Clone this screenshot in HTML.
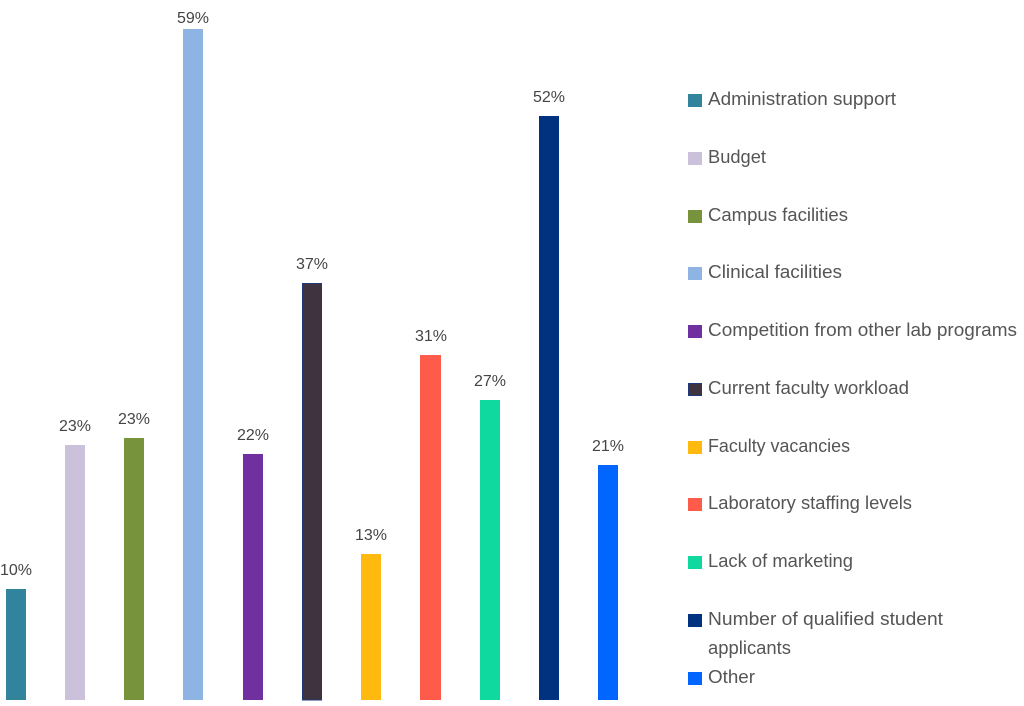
<!DOCTYPE html>
<html>
<head>
<meta charset="utf-8">
<style>
  html,body{margin:0;padding:0;background:#ffffff;}
  svg{display:block;}
  text{font-family:"Liberation Sans",sans-serif;}
</style>
</head>
<body>
<svg width="1024" height="706" viewBox="0 0 1024 706" xmlns="http://www.w3.org/2000/svg">
  <rect x="0" y="0" width="1024" height="706" fill="#ffffff"/>
  <!-- bars -->
  <rect x="6" y="589" width="20" height="111" fill="#31849B"/>
  <rect x="65" y="445" width="20" height="255" fill="#CCC1DA"/>
  <rect x="124" y="438" width="20" height="262" fill="#77933C"/>
  <rect x="183" y="29" width="20" height="671" fill="#8EB4E3"/>
  <rect x="243" y="454" width="20" height="246" fill="#7030A0"/>
  <rect x="302.5" y="283.5" width="19" height="416.5" fill="#403340" stroke="#1F3A7A" stroke-width="1"/>
  <rect x="361" y="554" width="20" height="146" fill="#FFB90F"/>
  <rect x="420" y="355" width="21" height="345" fill="#FF5B4B"/>
  <rect x="480" y="400" width="20" height="300" fill="#0FD99E"/>
  <rect x="539" y="116" width="20" height="584" fill="#00327F"/>
  <rect x="598" y="465" width="20" height="235" fill="#0066FF"/>

  <!-- value labels -->
  <g fill="#454545" font-size="16" text-anchor="middle">
    <text x="16" y="575">10%</text>
    <text x="75" y="431">23%</text>
    <text x="134" y="424">23%</text>
    <text x="193" y="23">59%</text>
    <text x="253" y="440">22%</text>
    <text x="312" y="269">37%</text>
    <text x="371" y="540">13%</text>
    <text x="431" y="341">31%</text>
    <text x="490" y="386">27%</text>
    <text x="549" y="102">52%</text>
    <text x="608" y="451">21%</text>
  </g>

  <!-- legend -->
  <g>
    <rect x="688" y="94" width="14" height="13" fill="#31849B"/>
    <rect x="688" y="152" width="14" height="13" fill="#CCC1DA"/>
    <rect x="688" y="210" width="14" height="13" fill="#77933C"/>
    <rect x="688" y="267" width="14" height="13" fill="#8EB4E3"/>
    <rect x="688" y="325" width="14" height="13" fill="#7030A0"/>
    <rect x="688.5" y="383.5" width="13" height="12" fill="#403340" stroke="#1F3A7A" stroke-width="1"/>
    <rect x="688" y="441" width="14" height="13" fill="#FFB90F"/>
    <rect x="688" y="498" width="14" height="13" fill="#FF5B4B"/>
    <rect x="688" y="556" width="14" height="13" fill="#0FD99E"/>
    <rect x="688" y="614" width="14" height="13" fill="#00327F"/>
    <rect x="688" y="672" width="14" height="13" fill="#0066FF"/>
  </g>
  <g fill="#555555" font-size="18">
    <text x="708" y="105" textLength="188" lengthAdjust="spacingAndGlyphs">Administration support</text>
    <text x="708" y="163" textLength="58" lengthAdjust="spacingAndGlyphs">Budget</text>
    <text x="708" y="221" textLength="140" lengthAdjust="spacingAndGlyphs">Campus facilities</text>
    <text x="708" y="278" textLength="134" lengthAdjust="spacingAndGlyphs">Clinical facilities</text>
    <text x="708" y="336" textLength="309" lengthAdjust="spacingAndGlyphs">Competition from other lab programs</text>
    <text x="708" y="394" textLength="201" lengthAdjust="spacingAndGlyphs">Current faculty workload</text>
    <text x="708" y="452" textLength="142" lengthAdjust="spacingAndGlyphs">Faculty vacancies</text>
    <text x="708" y="509" textLength="204" lengthAdjust="spacingAndGlyphs">Laboratory staffing levels</text>
    <text x="708" y="567" textLength="145" lengthAdjust="spacingAndGlyphs">Lack of marketing</text>
    <text x="708" y="625" textLength="235" lengthAdjust="spacingAndGlyphs">Number of qualified student</text>
    <text x="708" y="654" textLength="83" lengthAdjust="spacingAndGlyphs">applicants</text>
    <text x="708" y="683" textLength="47" lengthAdjust="spacingAndGlyphs">Other</text>
  </g>
</svg>
</body>
</html>
